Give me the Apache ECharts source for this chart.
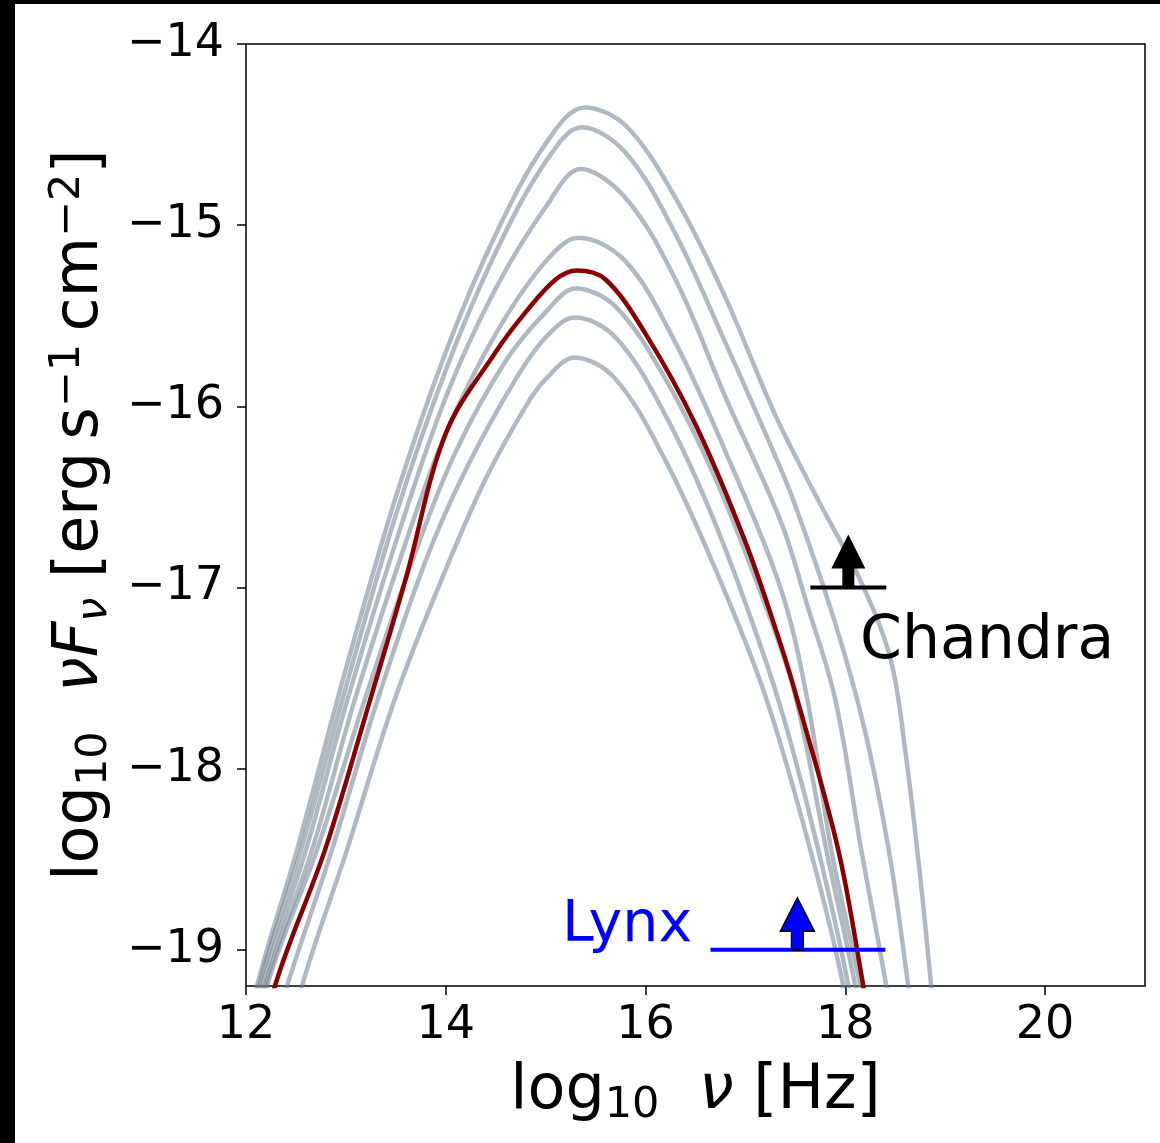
<!DOCTYPE html>
<html>
<head>
<meta charset="utf-8">
<script src="https://cdn.jsdelivr.net/npm/echarts@6/dist/echarts.min.js"></script>
<style>
  html, body { margin: 0; padding: 0; background: #000; }
  #chart { position: absolute; left: 15px; top: 4px; width: 1145px; height: 1139px; background: #fff; }
</style>
</head>
<body>
<div id="chart"></div>
<script>
// log10 nu [Hz], log10 nuFnu — model SEDs
const sedA = [[12.0,-19.55],[12.11,-19.2],[12.51,-18.45],[13.0,-17.45],[13.5,-16.5],[14.0,-15.7],[14.5,-15.05],[15.0,-14.55],[15.39,-14.35],[15.8,-14.45],[16.3,-14.85],[16.8,-15.4],[17.3,-16.05],[17.73,-16.52],[18.15,-16.96],[18.45,-17.39],[18.6,-17.9],[18.75,-18.6],[18.86,-19.2],[18.95,-19.7]];
const sedB = [[12.0,-19.6],[12.13,-19.2],[12.55,-18.45],[13.0,-17.55],[13.5,-16.6],[14.0,-15.8],[14.5,-15.15],[15.0,-14.65],[15.36,-14.46],[15.8,-14.6],[16.3,-15.05],[16.8,-15.65],[17.2,-16.15],[17.48,-16.52],[17.9,-17.2],[18.2,-17.8],[18.45,-18.5],[18.63,-19.2],[18.75,-19.7]];
const sedC = [[12.0,-19.65],[12.16,-19.2],[12.6,-18.45],[13.0,-17.65],[13.5,-16.75],[14.0,-15.95],[14.5,-15.35],[15.0,-14.9],[15.35,-14.69],[15.8,-14.85],[16.3,-15.3],[16.8,-15.95],[17.35,-16.63],[17.62,-17.1],[17.9,-17.62],[18.16,-18.45],[18.41,-19.2],[18.55,-19.7]];
const sedD = [[12.0,-19.75],[12.19,-19.2],[12.66,-18.45],[13.1,-17.6],[13.6,-16.75],[14.0,-16.15],[14.5,-15.6],[15.0,-15.2],[15.33,-15.07],[15.8,-15.2],[16.3,-15.65],[16.8,-16.25],[17.35,-17.0],[17.62,-17.62],[17.86,-18.45],[18.15,-19.2],[18.3,-19.7]];
const sedE = [[12.0,-19.8],[12.21,-19.2],[12.71,-18.45],[13.2,-17.6],[13.7,-16.8],[14.1,-16.25],[14.6,-15.75],[15.0,-15.48],[15.3,-15.35],[15.7,-15.45],[16.2,-15.85],[16.7,-16.4],[17.2,-17.1],[17.5,-17.6],[17.81,-18.45],[18.1,-19.2],[18.25,-19.7]];
const sedF = [[12.0,-19.95],[12.41,-19.2],[12.86,-18.45],[13.3,-17.65],[13.8,-16.85],[14.2,-16.35],[14.7,-15.85],[15.0,-15.62],[15.29,-15.51],[15.7,-15.62],[16.2,-16.05],[16.7,-16.65],[17.2,-17.4],[17.45,-17.85],[17.73,-18.45],[18.03,-19.2],[18.15,-19.7]];
const sedG = [[12.2,-20.0],[12.56,-19.2],[13.01,-18.45],[13.5,-17.6],[14.0,-16.9],[14.4,-16.4],[14.8,-16.0],[15.0,-15.85],[15.29,-15.73],[15.7,-15.85],[16.2,-16.3],[16.7,-16.9],[17.2,-17.6],[17.65,-18.45],[17.98,-19.2],[18.1,-19.7]];
const sedBest = [[12.0,-19.9],[12.29,-19.2],[12.79,-18.45],[13.2,-17.7],[13.6,-16.95],[14.0,-16.15],[14.5,-15.7],[14.8,-15.48],[15.1,-15.3],[15.31,-15.25],[15.6,-15.3],[16.0,-15.6],[16.5,-16.1],[17.0,-16.75],[17.35,-17.31],[17.52,-17.62],[17.93,-18.45],[18.18,-19.2],[18.3,-19.6]];

// detection limits
const chandraLimit = [[17.65,-17],[18.41,-17]];
const chandraArrow = [[18.03,-17]];
const lynxLimit = [[16.65,-19],[18.40,-19]];
const lynxArrow = [[17.52,-19]];

const xTicks = [12,14,16,18,20];
const yTicks = [-19,-18,-17,-16,-15,-14];

const FONT = 'DejaVu Sans';
const grayLine = 'rgba(112,128,144,0.55)';
const arrowPath = 'path://M17,0 L34,34 L23,34 L23,53 L11,53 L11,34 L0,34 Z';

const minus = v => String(v).replace('-', '\u2212');

const chart = echarts.init(document.getElementById('chart'));

const grays = [sedA, sedB, sedC, sedD, sedE, sedF, sedG].map(d => ({
  type: 'line', data: d, smooth: 0.35, showSymbol: false, silent: true,
  lineStyle: { color: grayLine, width: 4.5 }
}));

chart.setOption({
  animation: false,
  grid: { left: 231, top: 40, width: 899, height: 942, show: true, borderColor: '#000', borderWidth: 1.5, backgroundColor: '#fff' },
  xAxis: {
    type: 'value', min: 12, max: 21,
    splitLine: { show: false }, axisLine: { show: false },
    axisTick: { customValues: xTicks, length: 9, lineStyle: { color: '#000', width: 1.5 } },
    axisLabel: { customValues: xTicks, margin: 17, color: '#000', fontSize: 46, fontFamily: FONT },
    name: '{n|log}{s|10}{n|  }{i|\u03bd}{n| [Hz]}',
    nameLocation: 'middle', nameGap: 71,
    nameTextStyle: {
      color: '#000', fontFamily: FONT,
      rich: {
        n: { fontSize: 62, lineHeight: 70, fontFamily: FONT, color: '#000' },
        i: { fontSize: 62, lineHeight: 70, fontFamily: FONT, fontStyle: 'italic', color: '#000' },
        s: { fontSize: 43, lineHeight: 40, fontFamily: FONT, verticalAlign: 'bottom', color: '#000' }
      }
    }
  },
  yAxis: {
    type: 'value', min: -19.2, max: -14,
    splitLine: { show: false }, axisLine: { show: false },
    axisTick: { customValues: yTicks, length: 9, lineStyle: { color: '#000', width: 1.5 } },
    axisLabel: { customValues: yTicks, margin: 22, color: '#000', fontSize: 46, fontFamily: FONT, formatter: minus },
    name: '{n|log}{s|10}{n|  }{i|\u03bdF}{is|\u03bd}{n| [erg\u2009s}{p|\u22121}{n|\u2009cm}{p|\u22122}{n|]}',
    nameLocation: 'middle', nameRotate: 90, nameGap: 130,
    nameTextStyle: {
      color: '#000', fontFamily: FONT,
      rich: {
        n: { fontSize: 62, lineHeight: 70, fontFamily: FONT, color: '#000' },
        i: { fontSize: 62, lineHeight: 70, fontFamily: FONT, fontStyle: 'italic', color: '#000' },
        s: { fontSize: 43, lineHeight: 40, fontFamily: FONT, verticalAlign: 'bottom', color: '#000' },
        is: { fontSize: 43, lineHeight: 40, fontFamily: FONT, fontStyle: 'italic', verticalAlign: 'bottom', color: '#000' },
        p: { fontSize: 43, lineHeight: 25, fontFamily: FONT, verticalAlign: 'top', color: '#000' }
      }
    }
  },
  series: grays.concat([
    { type: 'line', data: sedBest, smooth: 0.35, showSymbol: false, silent: true, z: 3,
      lineStyle: { color: '#8b0000', width: 4.5 } },
    { type: 'line', data: chandraLimit, showSymbol: false, silent: true, z: 4,
      lineStyle: { color: '#000', width: 4 } },
    { type: 'scatter', data: chandraArrow, symbol: arrowPath, symbolSize: [34, 53], symbolOffset: [0, -26.5], silent: true, z: 5,
      itemStyle: { color: '#000', opacity: 1 } },
    { type: 'line', data: lynxLimit, showSymbol: false, silent: true, z: 4,
      lineStyle: { color: '#0000ff', width: 4 } },
    { type: 'scatter', data: lynxArrow, symbol: arrowPath, symbolSize: [34, 52], symbolOffset: [0, -26], silent: true, z: 5,
      itemStyle: { color: '#0000ff', borderColor: '#000', borderWidth: 1.5, opacity: 1 } }
  ]),
  graphic: [
    { type: 'text', left: 845, top: 608, z: 10, style: { text: 'Chandra', fontSize: 60, fontFamily: FONT, fill: '#000' } },
    { type: 'text', left: 547, top: 894, z: 10, style: { text: 'Lynx', fontSize: 57, fontFamily: FONT, fill: '#0000ff' } }
  ]
});
</script>
</body>
</html>
